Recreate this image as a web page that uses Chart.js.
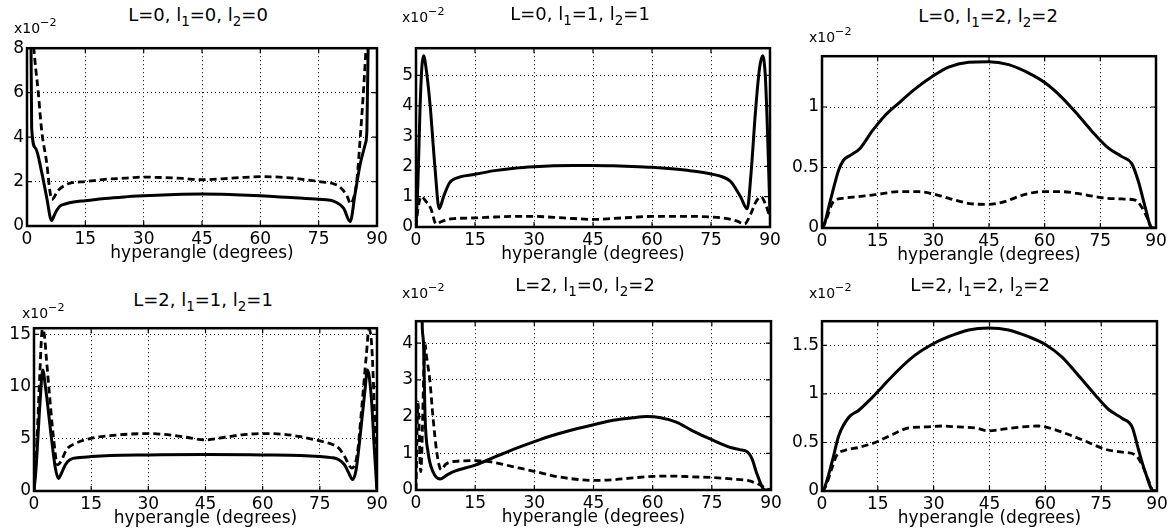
<!DOCTYPE html>
<html>
<head>
<meta charset="utf-8">
<script src="https://cdn.jsdelivr.net/npm/chart.js@4"></script>
<style>
html, body { margin: 0; padding: 0; background: #fff; overflow: hidden; }
body { width: 1173px; height: 531px; position: relative; font-family: "DejaVu Sans", sans-serif; color: #000; }
canvas { position: absolute; }
.ttl { position: absolute; font-size: 18px; line-height: 1; white-space: nowrap; transform: translate(-50%, -50%); }
.ttl sub { font-size: 0.75em; vertical-align: baseline; position: relative; top: 0.4em; }
.expo { position: absolute; font-size: 14px; line-height: 1; white-space: nowrap; transform: translateY(-50%); }
.expo sup { font-size: 0.8em; vertical-align: baseline; position: relative; top: -0.6em; }
</style>
</head>
<body>
<script>
"use strict";

const xTicks = [0, 15, 30, 45, 60, 75, 90];

// L=0, l1=0, l2=0
const p1SolidX = [0, 1.0, 1.2, 2.2, 3.8, 5.1, 6.3, 7.3, 8.5, 10, 12, 15, 20, 25, 30, 35, 40, 45, 50, 55, 60, 65, 70, 75, 78.8, 81.4, 83.1, 84.4, 85.7, 87, 87.4, 87.8, 90];
const p1SolidY = [14, 9, 4.4, 3.5, 2.4, 1.25, 0.25, 0.6, 0.9, 1.0, 1.08, 1.14, 1.24, 1.31, 1.36, 1.4, 1.43, 1.44, 1.43, 1.4, 1.36, 1.31, 1.26, 1.2, 1.12, 0.8, 0.2, 1.5, 2.8, 3.7, 4.3, 9, 14];
const p1DashX = [0, 1.6, 2.9, 3.8, 5.1, 5.9, 6.4, 8.0, 10.6, 15, 20, 25, 30, 35, 40, 45, 50, 55, 60, 65, 70, 75, 78.8, 80.5, 82.3, 83.2, 84.2, 84.8, 85.7, 86.5, 87.3, 90];
const p1DashY = [14, 8.4, 6.0, 4.25, 2.8, 1.55, 1.2, 1.6, 1.9, 2.0, 2.1, 2.15, 2.2, 2.18, 2.14, 2.08, 2.12, 2.18, 2.22, 2.2, 2.12, 2.0, 1.9, 1.75, 1.35, 1.0, 1.4, 2.0, 4.0, 6.0, 8.3, 14];
const p1YTicks = [0, 2, 4, 6, 8];
const p1YMax = 8;

// L=0, l1=1, l2=1
const p2SolidX = [0, 0.5, 1.0, 1.5, 1.95, 2.6, 3.6, 4.8, 5.9, 7, 8.5, 10, 15, 20, 25, 30, 35, 40, 45, 50, 55, 60, 65, 70, 75, 78, 80, 82.5, 84.2, 85.2, 86.3, 87.3, 88.1, 88.8, 89.4, 90];
const p2SolidY = [0, 1.5, 3.8, 5.3, 5.65, 5.2, 4.0, 2.0, 0.6, 1.0, 1.45, 1.6, 1.74, 1.86, 1.94, 1.99, 2.02, 2.03, 2.03, 2.02, 2.0, 1.97, 1.92, 1.85, 1.75, 1.65, 1.5, 1.0, 0.6, 1.8, 3.8, 5.2, 5.65, 5.0, 3.0, 0.4];
const p2DashX = [0, 0.5, 1.3, 2.5, 3.8, 5.1, 6, 8, 10, 15, 20, 25, 30, 35, 40, 45, 50, 55, 60, 65, 70, 75, 78, 81.5, 83.5, 85, 86.5, 87.7, 89, 90];
const p2DashY = [0, 0.6, 1.0, 0.85, 0.6, 0.1, 0.15, 0.25, 0.28, 0.3, 0.33, 0.35, 0.35, 0.32, 0.28, 0.25, 0.28, 0.32, 0.35, 0.35, 0.35, 0.33, 0.3, 0.2, 0.1, 0.4, 0.85, 1.0, 0.7, 0.3];
const p2YTicks = [0, 1, 2, 3, 4, 5];
const p2YMax = 5.9;

// L=0, l1=2, l2=2
const p3SolidX = [0, 0.4, 2.2, 4.5, 5.8, 7.6, 10.3, 13.5, 17, 20.6, 25.1, 29.6, 34.1, 39.5, 44.9, 50.3, 55.7, 60.1, 64.6, 69.1, 73.6, 77.2, 80.8, 83.5, 85.3, 87.1, 88.9, 90];
const p3SolidY = [0, 0.01, 0.22, 0.48, 0.56, 0.6, 0.66, 0.8, 0.93, 1.03, 1.15, 1.25, 1.33, 1.37, 1.375, 1.35, 1.28, 1.2, 1.08, 0.93, 0.77, 0.66, 0.59, 0.53, 0.38, 0.17, 0, 0];
const p3DashX = [0, 0.9, 3.1, 5.4, 9.9, 14.4, 20.6, 26, 31.4, 35.9, 40.4, 44.9, 49.4, 53.9, 59.2, 64.6, 70, 75.4, 80.8, 84.4, 86.2, 88, 88.9, 90];
const p3DashY = [0, 0.05, 0.22, 0.245, 0.26, 0.275, 0.3, 0.3, 0.27, 0.23, 0.2, 0.195, 0.22, 0.27, 0.3, 0.3, 0.28, 0.25, 0.24, 0.23, 0.17, 0.06, 0, 0];
const p3YTicks = [0, 0.5, 1];
const p3YMax = 1.42;

// L=2, l1=1, l2=1
const p4SolidX = [0, 0.5, 1.5, 2.3, 3.0, 4.6, 5.6, 6.4, 7.2, 8.2, 9.4, 12, 15, 20, 30, 45, 60, 70, 75, 78, 80, 81.5, 82.5, 83.6, 84.5, 85.5, 86.8, 87.5, 88.5, 89.3, 90];
const p4SolidY = [0, 2, 8, 11.6, 10, 5, 2.2, 1.2, 1.7, 2.5, 3.0, 3.2, 3.3, 3.4, 3.45, 3.5, 3.45, 3.4, 3.3, 3.2, 3.0, 2.5, 1.8, 1.1, 2.0, 5.0, 9.5, 11.6, 9, 4, 0];
const p4DashX = [0, 0.8, 1.5, 2.2, 2.7, 3.3, 4, 5, 6.2, 7, 8.6, 10.5, 15, 20, 25, 30, 35, 40, 45, 50, 55, 60, 65, 70, 75, 78, 80, 81.5, 83.4, 84.8, 86, 87.2, 87.9, 88.6, 89.3, 90];
const p4DashY = [0, 5, 11, 15.5, 15, 12.5, 9.5, 5.5, 2.5, 2.8, 4.0, 4.5, 5.05, 5.3, 5.45, 5.5, 5.4, 5.15, 4.9, 5.15, 5.4, 5.5, 5.45, 5.2, 4.8, 4.5, 4.1, 3.3, 2.2, 3.5, 8, 13, 15.5, 14, 8, 0];
const p4YTicks = [0, 5, 10, 15];
const p4YMax = 15.6;

// L=2, l1=0, l2=2
const p5SolidX = [0, 1.3, 1.6, 1.9, 2.3, 3.1, 4.3, 6.1, 8, 10, 15, 20, 25, 30, 35, 40, 45, 50, 55, 58.5, 62, 66, 70, 75, 80, 82, 84, 85.2, 86.4, 88.5, 90];
const p5SolidY = [8, 6, 4.4, 4.0, 2.0, 1.0, 0.5, 0.3, 0.42, 0.52, 0.68, 0.9, 1.12, 1.32, 1.5, 1.65, 1.78, 1.9, 1.97, 2.0, 1.97, 1.85, 1.62, 1.37, 1.15, 1.1, 1.04, 0.85, 0.45, 0, 0];
const p5DashX = [0, 0.5, 1.2, 2.3, 2.6, 3.5, 4.3, 5.3, 6.4, 7.5, 10, 15, 18, 22, 26, 30, 35, 40, 45, 50, 55, 60, 65, 70, 75, 80, 84, 87, 89, 90];
const p5DashY = [0, 2.4, 0.5, 4.0, 3.7, 3.0, 2.0, 1.0, 0.55, 0.7, 0.78, 0.8, 0.78, 0.7, 0.6, 0.51, 0.38, 0.3, 0.26, 0.28, 0.33, 0.37, 0.38, 0.36, 0.34, 0.3, 0.26, 0.15, 0.03, 0];
const p5YTicks = [0, 1, 2, 3, 4];
const p5YMax = 4.6;

// L=2, l1=2, l2=2
const p6SolidX = [0, 0.4, 2.7, 4.5, 7.2, 9.8, 13.4, 16.1, 20.6, 25, 29.5, 34, 39.4, 44.8, 50.1, 55.5, 60, 64.5, 68.9, 73.4, 77, 80.6, 83.3, 85, 86.8, 89.1, 90];
const p6SolidY = [0, 0.01, 0.3, 0.57, 0.76, 0.83, 0.96, 1.07, 1.25, 1.4, 1.51, 1.59, 1.66, 1.68, 1.66, 1.59, 1.51, 1.38, 1.19, 0.99, 0.84, 0.75, 0.66, 0.43, 0.2, 0, 0];
const p6DashX = [0, 0.9, 2.7, 4, 6.3, 9.8, 14.3, 18.8, 23.3, 27.8, 32.2, 36.7, 41.2, 44.8, 49.2, 53.7, 58.2, 62.7, 67.1, 71.6, 76.1, 80.6, 84.2, 86, 87.7, 89.1, 90];
const p6DashY = [0, 0.04, 0.24, 0.37, 0.42, 0.45, 0.5, 0.58, 0.65, 0.66, 0.67, 0.66, 0.65, 0.62, 0.64, 0.66, 0.67, 0.63, 0.57, 0.5, 0.43, 0.4, 0.37, 0.27, 0.11, 0, 0];
const p6YTicks = [0, 0.5, 1, 1.5];
const p6YMax = 1.75;

const FONT = "'DejaVu Sans', sans-serif";

const panels = [
    { title: "L=0, l<sub>1</sub>=0, l<sub>2</sub>=0", box: [27, 39, 377, 226], titlePos: [198, 15], expoPos: [14, 28],
      solidX: p1SolidX, solidY: p1SolidY, dashX: p1DashX, dashY: p1DashY, yTicks: p1YTicks, yMax: p1YMax },
    { title: "L=0, l<sub>1</sub>=1, l<sub>2</sub>=1", box: [416, 39, 770, 227], titlePos: [580, 14], expoPos: [402, 17],
      solidX: p2SolidX, solidY: p2SolidY, dashX: p2DashX, dashY: p2DashY, yTicks: p2YTicks, yMax: p2YMax },
    { title: "L=0, l<sub>1</sub>=2, l<sub>2</sub>=2", box: [822, 47, 1156, 228], titlePos: [988, 16], expoPos: [809, 37],
      solidX: p3SolidX, solidY: p3SolidY, dashX: p3DashX, dashY: p3DashY, yTicks: p3YTicks, yMax: p3YMax },
    { title: "L=2, l<sub>1</sub>=1, l<sub>2</sub>=1", box: [34, 319, 377, 491], titlePos: [203, 300], expoPos: [22, 313],
      solidX: p4SolidX, solidY: p4SolidY, dashX: p4DashX, dashY: p4DashY, yTicks: p4YTicks, yMax: p4YMax },
    { title: "L=2, l<sub>1</sub>=0, l<sub>2</sub>=2", box: [416, 312, 771, 490], titlePos: [585, 285], expoPos: [402, 293],
      solidX: p5SolidX, solidY: p5SolidY, dashX: p5DashX, dashY: p5DashY, yTicks: p5YTicks, yMax: p5YMax },
    { title: "L=2, l<sub>1</sub>=2, l<sub>2</sub>=2", box: [822, 312, 1157, 491], titlePos: [980, 285], expoPos: [809, 293],
      solidX: p6SolidX, solidY: p6SolidY, dashX: p6DashX, dashY: p6DashY, yTicks: p6YTicks, yMax: p6YMax }
];

// box + inward ticks, like the matlab axes
const framePlugin = {
    id: "frame",
    afterDatasetsDraw(chart) {
        const { ctx, chartArea: a, scales } = chart;
        ctx.save();
        ctx.strokeStyle = "#000";
        ctx.lineWidth = 1.2;
        ctx.beginPath();
        scales.x.ticks.forEach(function(t) {
            const px = scales.x.getPixelForValue(t.value);
            ctx.moveTo(px, a.bottom); ctx.lineTo(px, a.bottom - 5);
            ctx.moveTo(px, a.top); ctx.lineTo(px, a.top + 5);
        });
        scales.y.ticks.forEach(function(t) {
            const py = scales.y.getPixelForValue(t.value);
            ctx.moveTo(a.left, py); ctx.lineTo(a.left + 5, py);
            ctx.moveTo(a.right, py); ctx.lineTo(a.right - 5, py);
        });
        ctx.stroke();
        ctx.lineWidth = 2.5;
        ctx.strokeRect(a.left, a.top, a.right - a.left, a.bottom - a.top);
        ctx.restore();
    }
};

function pts(xs, ys) {
    return xs.map(function(x, i) { return { x: x, y: ys[i] }; });
}

function makePanel(p) {
    const yw = Math.min(44, p.box[0]), padTop = 4, padRight = 14, xh = 40;
    const w = p.box[2] - p.box[0] + yw + padRight;
    const h = p.box[3] - p.box[1] + padTop + xh;
    const c = document.createElement("canvas");
    c.width = w;
    c.height = h;
    c.style.left = (p.box[0] - yw) + "px";
    c.style.top = (p.box[1] - padTop) + "px";
    c.style.width = w + "px";
    c.style.height = h + "px";
    document.body.appendChild(c);

    const t = document.createElement("div");
    t.className = "ttl";
    t.innerHTML = p.title;
    t.style.left = p.titlePos[0] + "px";
    t.style.top = p.titlePos[1] + "px";
    document.body.appendChild(t);

    const e = document.createElement("div");
    e.className = "expo";
    e.innerHTML = "x10<sup>\u22122</sup>";
    e.style.left = p.expoPos[0] + "px";
    e.style.top = p.expoPos[1] + "px";
    document.body.appendChild(e);

    const gridOpts = { color: "#000", lineWidth: 1, drawTicks: false };
    const borderOpts = { display: false, dash: [1, 3] };

    new Chart(c, {
        "type": "line",
        "data": {
            "datasets": [
                {
                    "data": pts(p.solidX, p.solidY),
                    "borderColor": "#000",
                    "borderWidth": 3,
                    "pointRadius": 0,
                    "cubicInterpolationMode": "monotone",
                    "clip": 0
                },
                {
                    "data": pts(p.dashX, p.dashY),
                    "borderColor": "#000",
                    "borderWidth": 2.8,
                    "borderDash": [7, 4],
                    "pointRadius": 0,
                    "cubicInterpolationMode": "monotone",
                    "clip": 0
                }
            ]
        },
        "options": {
            "responsive": false,
            "animation": false,
            "devicePixelRatio": 1,
            "layout": { "padding": { "top": padTop, "right": padRight, "left": 0, "bottom": 0 }, "autoPadding": false },
            "plugins": { "legend": { "display": false }, "tooltip": { "enabled": false } },
            "scales": {
                "x": {
                    "type": "linear",
                    "min": 0,
                    "max": 90,
                    "afterBuildTicks": function(s) { s.ticks = xTicks.map(v => ({ value: v })); },
                    "afterFit": function(s) { s.height = xh; },
                    "grid": gridOpts,
                    "border": borderOpts,
                    "ticks": { "color": "#000", "font": { "family": FONT, "size": 17 }, "padding": 3, "maxRotation": 0, "autoSkip": false },
                    "title": { "display": true, "text": "hyperangle (degrees)", "color": "#000", "font": { "family": FONT, "size": 17 }, "padding": { "top": 0, "bottom": 2 } }
                },
                "y": {
                    "min": 0,
                    "max": p.yMax,
                    "afterBuildTicks": function(s) { s.ticks = p.yTicks.map(v => ({ value: v })); },
                    "afterFit": function(s) { s.width = yw; },
                    "grid": gridOpts,
                    "border": borderOpts,
                    "ticks": { "color": "#000", "font": { "family": FONT, "size": 17 }, "padding": 3, "callback": v => String(v) }
                }
            }
        },
        "plugins": [framePlugin]
    });
}

panels.forEach(makePanel);
</script>
</body>
</html>
